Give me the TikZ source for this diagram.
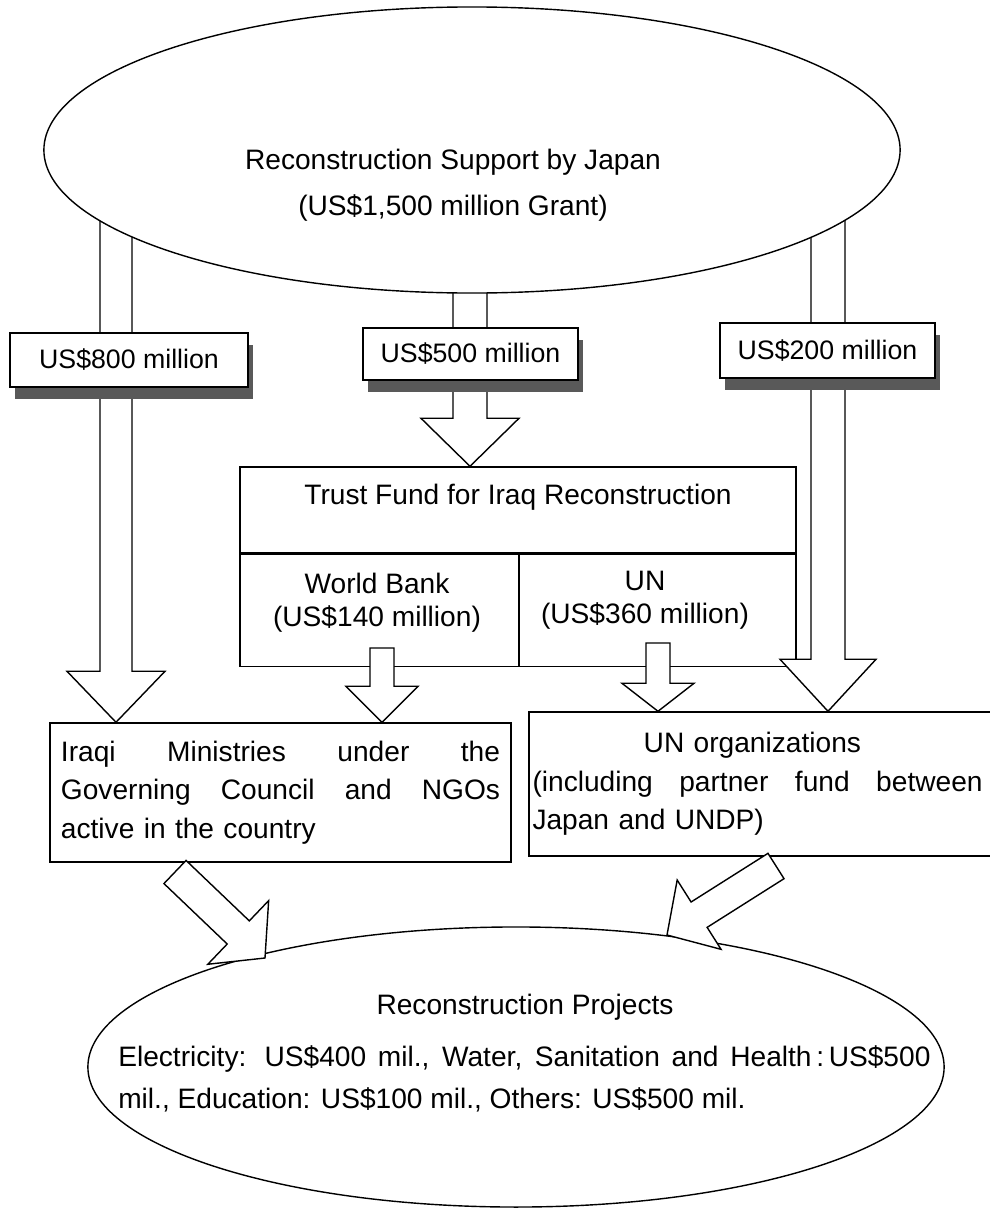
\documentclass[tikz,border=0pt]{standalone}
\usepackage{fontspec}
\setmainfont{Liberation Sans}
\usetikzlibrary{shapes.geometric,positioning,calc,shadows}

% hollow block arrow: tail, tip, half shaft, half head, head length
\newcommand{\fatarrow}[5]{%
  \coordinate (fa-base) at ($(#2)!#5!(#1)$);
  \draw[blockarrow] ($(#1)!#3!90:(#2)$) -- ($(fa-base)!#3!90:(#2)$)
    -- ($(fa-base)!#4!90:(#2)$) -- (#2) -- ($(fa-base)!#4!-90:(#2)$)
    -- ($(fa-base)!#3!-90:(#2)$) -- ($(#1)!#3!-90:(#2)$) -- cycle;}

\begin{document}
\begin{tikzpicture}[
    x=0.025cm, y=-0.025cm,
    font=\fontsize{20pt}{27.5pt}\selectfont,
    oval/.style={ellipse, draw, line width=1pt, inner sep=0pt},
    box/.style={rectangle, draw, line width=1pt, inner sep=0pt},
    txt/.style={inner sep=0pt},
    amount/.style={rectangle, draw, line width=1pt, fill=white, inner sep=0pt,
      font=\fontsize{19pt}{22pt}\selectfont,
      drop shadow={shadow xshift=0.12cm, shadow yshift=-0.3cm, fill=black!65, opacity=1}},
    blockarrow/.style={draw, line width=1pt, fill=white, line join=miter}
]
\useasboundingbox (0,0) rectangle (990,1210);

% Recipients
\node[box, minimum width=11.525cm, minimum height=3.475cm, text width=10.975cm,
  align=left] (ministries) at (280.5,792.5)
  {\makebox[10.975cm][l]{Iraqi\hfill Ministries\hfill under\hfill the}\\
   \makebox[10.975cm][l]{Governing\hfill Council\hfill and\hfill NGOs}\\
   active in the country};
\node[box, minimum width=11.775cm, minimum height=3.6cm] (unorgs) at (764.5,784) {};
\node[txt, anchor=west, text width=11.25cm, align=left] (unorgstxt) at ([xshift=0.1cm]unorgs.west)
  {\makebox[10.99cm]{UN organizations}\\
   \makebox[11.25cm][l]{(including\hfill partner\hfill fund\hfill between}\\
   Japan and UNDP)};

% Trust fund
\node[box, minimum width=13.9cm, minimum height=2.15cm] (trusthead) at (518,510) {};
\node[box, minimum width=6.975cm, minimum height=2.8cm, anchor=north west] (wbcell) at (trusthead.south west) {};
\node[box, minimum width=6.925cm, minimum height=2.8cm, anchor=north east] (uncell) at (trusthead.south east) {};
\node[txt] (trusttxt) at (518,497) {Trust Fund for Iraq Reconstruction};
\node[txt, align=center, font=\fontsize{20pt}{23.5pt}\selectfont] (wbtxt) at (377,603) {World Bank\\(US\$140 million)};
\node[txt, align=center, font=\fontsize{20pt}{23.5pt}\selectfont] (untxt) at (645,600) {UN\\(US\$360 million)};

% Projects
\node[oval, minimum width=21.4cm, minimum height=7cm] (projects) at (516,1067) {};
\node[txt] (projtitle) at (525,1007) {Reconstruction Projects};
\node[txt, anchor=west, align=left, font=\fontsize{20pt}{30pt}\selectfont] (projlist) at (118,1079)
  {\makebox[20.3cm][s]{Electricity: US\$400 mil., Water, Sanitation and Health\,:\,US\$500}\\
   mil., Education: US\$100 mil., Others: US\$500 mil.};

% Block arrows
\coordinate (s800) at (116,200);
\coordinate (t800) at (ministries.north -| s800);
\fatarrow{s800}{t800}{0.4cm}{1.225cm}{1.275cm}
\coordinate (s500) at (470,260);
\coordinate (t500) at (trusthead.north -| s500);
\fatarrow{s500}{t500}{0.425cm}{1.225cm}{1.2cm}
\coordinate (s200) at (828,200);
\coordinate (t200) at (unorgs.north -| s200);
\fatarrow{s200}{t200}{0.425cm}{1.2cm}{1.3cm}
\coordinate (swb) at (382,648);
\coordinate (twb) at (ministries.north -| swb);
\fatarrow{swb}{twb}{0.3cm}{0.9cm}{0.9cm}
\coordinate (sun) at (658,643);
\coordinate (tun) at (unorgs.north -| sun);
\fatarrow{sun}{tun}{0.3cm}{0.9cm}{0.7cm}
\coordinate (sleft) at (175,872);
\coordinate (tleft) at (265,958);
\fatarrow{sleft}{tleft}{0.4cm}{1.1cm}{0.925cm}
\coordinate (sright) at (776,866);
\coordinate (tright) at (667,935);
\fatarrow{sright}{tright}{0.375cm}{1.025cm}{0.95cm}

% Amounts
\node[amount, minimum width=5.95cm, minimum height=1.35cm] (b800) at (129,360) {US\$800 million};
\node[amount, minimum width=5.375cm, minimum height=1.3cm] (b500) at (470.5,354) {US\$500 million};
\node[amount, minimum width=5.375cm, minimum height=1.375cm] (b200) at (827.5,350.5) {US\$200 million};

% Japan
\node[oval, fill=white, minimum width=21.4cm, minimum height=7.15cm] (japan) at (472,150) {};
\node[txt, align=center, font=\fontsize{20pt}{32.7pt}\selectfont] (japantxt) at (453,185)
  {Reconstruction Support by Japan\\(US\$1,500 million Grant)};

\end{tikzpicture}
\end{document}
